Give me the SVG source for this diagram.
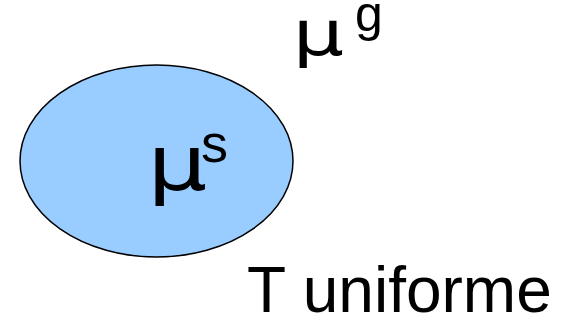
<svg xmlns="http://www.w3.org/2000/svg" width="565" height="320" viewBox="0 0 565 320">
<style>
text{font-family:"Liberation Sans",Arial,sans-serif;fill:#000}
.mu{font-family:"DejaVu Sans",sans-serif}
</style>
<rect width="565" height="320" fill="#fff"/>
<g id="solid">
<ellipse cx="156.5" cy="161" rx="136.5" ry="96" fill="#99CCFF" stroke="#000" stroke-width="1.5"/>
<text class="mu" transform="translate(156,190) scale(1.22,1)" x="-7" y="0" font-size="77">μ</text>
<text x="201" y="162" font-size="54">s</text>
</g>
<g id="gas">
<text class="mu" transform="translate(300,55) scale(1.3,1)" x="-5.6" y="0" font-size="62">μ</text>
<text x="355" y="31" font-size="50">g</text>
</g>
<g id="label">
<text x="247" y="312" font-size="64">T uniforme</text>
</g>
<g id="connectors"/>
</svg>
